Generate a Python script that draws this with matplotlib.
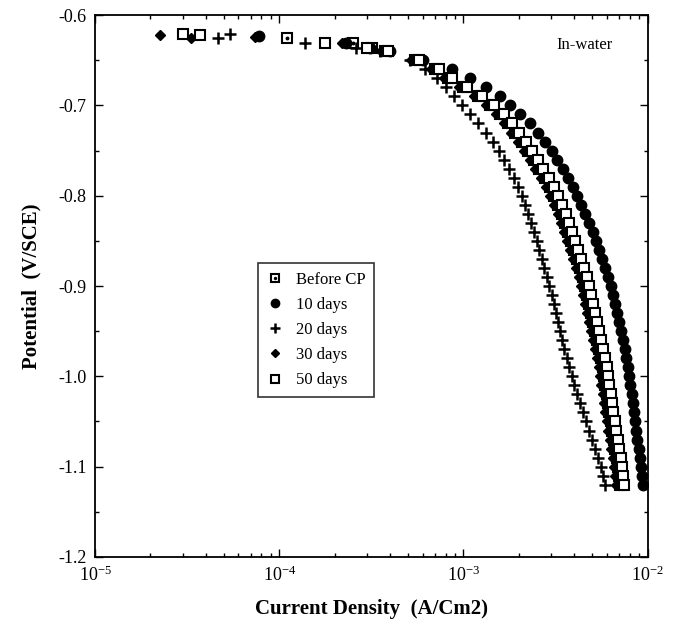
import matplotlib
matplotlib.use("Agg")
import matplotlib.pyplot as plt
from matplotlib.ticker import LogLocator, MultipleLocator, FormatStrFormatter
from matplotlib.legend_handler import HandlerTuple

plt.rcParams['font.family'] = ['Liberation Serif', 'DejaVu Serif']
plt.rcParams['mathtext.fontset'] = 'custom'
plt.rcParams['mathtext.rm'] = 'Liberation Serif'

# potential grid (V/SCE) for the main part of the sweep
potential = [-0.64, -0.65, -0.66, -0.67, -0.68, -0.69, -0.70, -0.71, -0.72, -0.73,
             -0.74, -0.75, -0.76, -0.77, -0.78, -0.79, -0.80, -0.81, -0.82, -0.83,
             -0.84, -0.85, -0.86, -0.87, -0.88, -0.89, -0.90, -0.91, -0.92, -0.93,
             -0.94, -0.95, -0.96, -0.97, -0.98, -0.99, -1.00, -1.01, -1.02, -1.03,
             -1.04, -1.05, -1.06, -1.07, -1.08, -1.09, -1.10, -1.11, -1.12]

# current density (A/cm2) on that grid
before_cp = [3.75e-4, 5.45e-4, 7.00e-4, 8.23e-4, 9.93e-4, 1.20e-3, 1.39e-3, 1.58e-3, 1.74e-3, 1.90e-3,
             2.07e-3, 2.24e-3, 2.41e-3, 2.57e-3, 2.77e-3, 2.94e-3, 3.09e-3, 3.25e-3, 3.42e-3, 3.55e-3,
             3.69e-3, 3.83e-3, 3.97e-3, 4.12e-3, 4.28e-3, 4.44e-3, 4.56e-3, 4.67e-3, 4.79e-3, 4.91e-3,
             5.04e-3, 5.16e-3, 5.30e-3, 5.43e-3, 5.57e-3, 5.71e-3, 5.78e-3, 5.85e-3, 6.00e-3, 6.08e-3,
             6.15e-3, 6.31e-3, 6.39e-3, 6.55e-3, 6.63e-3, 6.80e-3, 6.88e-3, 6.97e-3, 7.06e-3]
days_10 = [3.99e-4, 6.02e-4, 8.65e-4, 1.08e-3, 1.32e-3, 1.58e-3, 1.79e-3, 2.02e-3, 2.29e-3, 2.53e-3,
           2.77e-3, 3.02e-3, 3.21e-3, 3.46e-3, 3.69e-3, 3.92e-3, 4.12e-3, 4.34e-3, 4.56e-3, 4.79e-3,
           5.04e-3, 5.23e-3, 5.43e-3, 5.64e-3, 5.85e-3, 6.08e-3, 6.31e-3, 6.47e-3, 6.63e-3, 6.80e-3,
           6.97e-3, 7.15e-3, 7.33e-3, 7.51e-3, 7.61e-3, 7.80e-3, 7.89e-3, 7.99e-3, 8.20e-3, 8.30e-3,
           8.41e-3, 8.51e-3, 8.62e-3, 8.73e-3, 8.95e-3, 9.06e-3, 9.18e-3, 9.29e-3, 9.40e-3]
days_20 = [3.52e-4, 5.12e-4, 6.17e-4, 7.17e-4, 8.03e-4, 8.87e-4, 9.80e-4, 1.08e-3, 1.20e-3, 1.32e-3,
           1.44e-3, 1.56e-3, 1.66e-3, 1.76e-3, 1.88e-3, 1.97e-3, 2.07e-3, 2.15e-3, 2.24e-3, 2.32e-3,
           2.41e-3, 2.50e-3, 2.57e-3, 2.66e-3, 2.73e-3, 2.84e-3, 2.90e-3, 3.02e-3, 3.09e-3, 3.17e-3,
           3.25e-3, 3.34e-3, 3.42e-3, 3.51e-3, 3.64e-3, 3.73e-3, 3.88e-3, 3.97e-3, 4.12e-3, 4.28e-3,
           4.44e-3, 4.61e-3, 4.79e-3, 4.97e-3, 5.16e-3, 5.36e-3, 5.57e-3, 5.71e-3, 5.85e-3]
days_30 = [3.55e-4, 5.20e-4, 6.65e-4, 7.80e-4, 9.40e-4, 1.14e-3, 1.32e-3, 1.50e-3, 1.65e-3, 1.81e-3,
           1.97e-3, 2.13e-3, 2.29e-3, 2.45e-3, 2.63e-3, 2.80e-3, 2.94e-3, 3.09e-3, 3.25e-3, 3.38e-3,
           3.51e-3, 3.64e-3, 3.78e-3, 3.92e-3, 4.07e-3, 4.22e-3, 4.34e-3, 4.44e-3, 4.56e-3, 4.67e-3,
           4.79e-3, 4.91e-3, 5.04e-3, 5.16e-3, 5.30e-3, 5.43e-3, 5.50e-3, 5.57e-3, 5.71e-3, 5.78e-3,
           5.85e-3, 6.00e-3, 6.08e-3, 6.23e-3, 6.31e-3, 6.47e-3, 6.55e-3, 6.63e-3, 6.72e-3]
days_50 = [3.90e-4, 5.70e-4, 7.35e-4, 8.65e-4, 1.04e-3, 1.26e-3, 1.46e-3, 1.66e-3, 1.83e-3, 2.00e-3,
           2.18e-3, 2.36e-3, 2.54e-3, 2.70e-3, 2.91e-3, 3.09e-3, 3.25e-3, 3.42e-3, 3.60e-3, 3.73e-3,
           3.88e-3, 4.03e-3, 4.18e-3, 4.34e-3, 4.50e-3, 4.67e-3, 4.79e-3, 4.91e-3, 5.04e-3, 5.16e-3,
           5.30e-3, 5.43e-3, 5.57e-3, 5.71e-3, 5.85e-3, 6.00e-3, 6.08e-3, 6.15e-3, 6.31e-3, 6.39e-3,
           6.47e-3, 6.63e-3, 6.72e-3, 6.88e-3, 6.97e-3, 7.15e-3, 7.24e-3, 7.33e-3, 7.42e-3]

# sparse points near the open-circuit potential
top_before_v, top_before_i = [-0.625, -0.631, -0.636], [1.10e-4, 2.50e-4, 3.20e-4]
top_10_v, top_10_i = [-0.623, -0.631, -0.636], [7.8e-5, 2.3e-4, 3.1e-4]
top_20_v, top_20_i = [-0.625, -0.621, -0.631, -0.636], [4.65e-5, 5.4e-5, 1.38e-4, 2.6e-4]
top_30_v, top_30_i = [-0.622, -0.625, -0.624, -0.631, -0.636], [2.25e-5, 3.3e-5, 7.4e-5, 2.2e-4, 3.2e-4]
top_50_v, top_50_i = [-0.621, -0.622, -0.631, -0.636], [3.0e-5, 3.7e-5, 1.77e-4, 3.0e-4]

fig = plt.figure(figsize=(6.74, 6.30), dpi=100)
ax = fig.add_axes([0.141, 0.116, 0.820, 0.860])

ms = 6.5
h_before = ax.plot(top_before_i + before_cp, top_before_v + potential, 's', ms=ms,
                   mfc='white', mec='black', mew=1.5, ls='none')[0]
h_before_dot = ax.plot(top_before_i + before_cp, top_before_v + potential, 'o', ms=1.8,
                       color='black', ls='none')[0]
h_10 = ax.plot(top_10_i + days_10, top_10_v + potential, 'o', ms=7.5, color='black', ls='none')[0]
h_20 = ax.plot(top_20_i + days_20, top_20_v + potential, '+', ms=9, mew=1.8, color='black', ls='none')[0]
h_30 = ax.plot(top_30_i + days_30, top_30_v + potential, 'D', ms=5, color='black', ls='none')[0]
h_50 = ax.plot(top_50_i + days_50, top_50_v + potential, 's', ms=ms, mfc='white', mec='black',
               mew=1.5, ls='none')[0]

ax.set_xscale('log')
ax.set_xlim(1e-5, 1e-2)
ax.set_ylim(-1.2, -0.6)
ax.xaxis.set_major_locator(LogLocator(base=10, numticks=10))
ax.xaxis.set_minor_locator(LogLocator(base=10, subs=range(2, 10), numticks=10))
ax.yaxis.set_major_locator(MultipleLocator(0.1))
ax.yaxis.set_minor_locator(MultipleLocator(0.05))
ax.yaxis.set_major_formatter(FormatStrFormatter('%.1f'))
ax.tick_params(which='both', direction='in', top=True, right=True, labelsize=13, width=1)
ax.tick_params(which='major', length=6, pad=6)
ax.tick_params(which='minor', length=3)
for s in ax.spines.values():
    s.set_linewidth(1.3)

ax.set_xlabel('Current Density  (A/Cm2)', fontsize=15, fontweight='bold', labelpad=10)
ax.set_ylabel('Potential  (V/SCE)', fontsize=15, fontweight='bold', labelpad=12)
ax.text(0.886, 0.945, 'In-water', transform=ax.transAxes, ha='center', va='center', fontsize=12)

leg = ax.legend([(h_before, h_before_dot), h_10, h_20, h_30, h_50],
                ['Before CP', '10 days', '20 days', '30 days', '50 days'],
                handler_map={tuple: HandlerTuple(ndivide=1)},
                loc='upper left', bbox_to_anchor=(0.28, 0.557), fontsize=12,
                frameon=True, fancybox=False, edgecolor='black', handlelength=1.0,
                handletextpad=0.8, labelspacing=0.55, borderpad=0.5, markerscale=0.8)
leg.get_frame().set_linewidth(1.2)

fig.savefig('out.png', dpi=100)
